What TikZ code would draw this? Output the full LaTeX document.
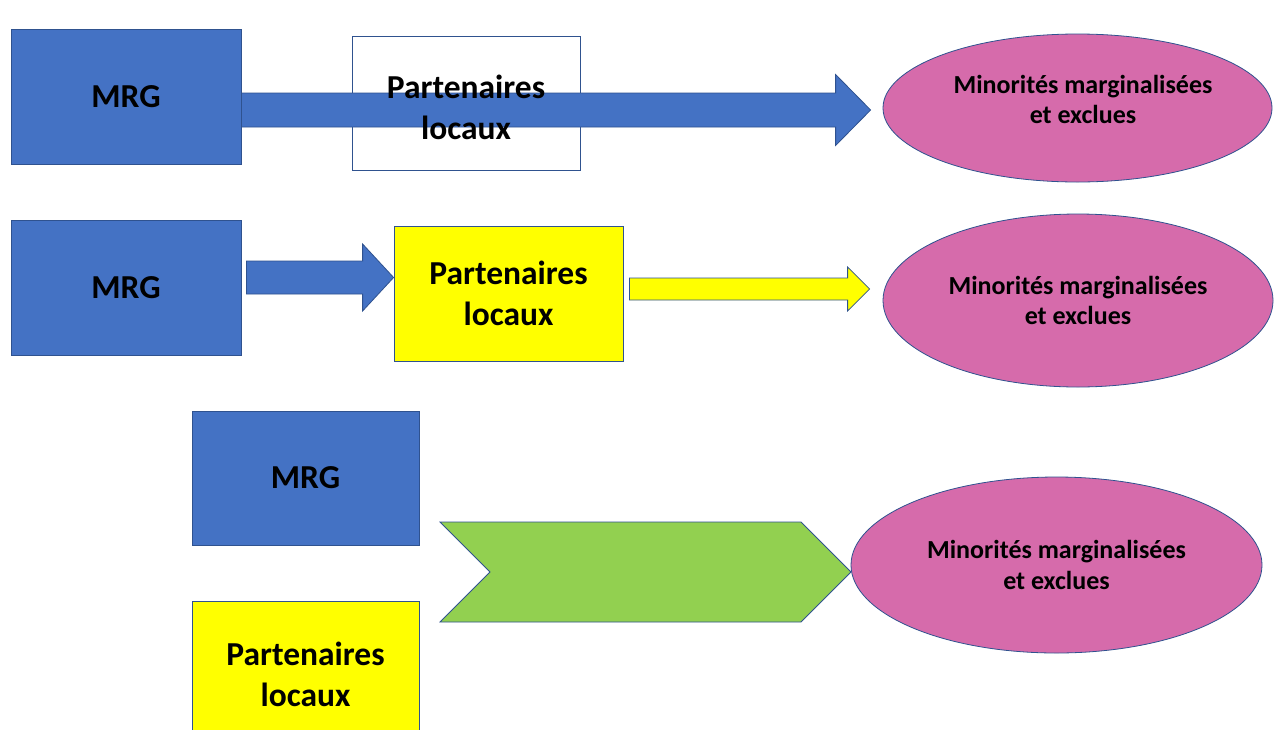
\documentclass[tikz,border=0pt]{standalone}
\usepackage{fontspec}
\setmainfont{Carlito}
\usetikzlibrary{shapes.geometric,calc}
\definecolor{mblue}{HTML}{4472C4}
\definecolor{mline}{HTML}{2F528F}
\definecolor{myel}{HTML}{FFFF00}
\definecolor{mgreen}{HTML}{92D050}
\definecolor{mpink}{HTML}{D66BAB}
\tikzset{
  bigtext/.style={font=\fontsize{33.5}{41}\selectfont\bfseries, align=center, text=black},
  smalltext/.style={font=\fontsize{26}{30.5}\selectfont\bfseries, align=center, text=black},
  box/.style={draw=mline, line width=0.8pt, rectangle, inner sep=0pt, bigtext},
  mrgbox/.style={box, fill=mblue},
  partbox/.style={box, fill=myel},
  openbox/.style={box, fill=white, line width=1pt},
  target/.style={ellipse, draw=mline, line width=0.8pt, fill=mpink, inner sep=0pt, smalltext},
  bluearrow/.style={fill=mblue, draw=mline, line width=0.8pt, line join=miter},
  yelarrow/.style={fill=myel, draw=mline, line width=0.8pt, line join=miter},
  chevron/.style={fill=mgreen, draw=mline, line width=0.8pt, line join=miter}
}
\newcommand\blockarrow[6]{%
  \path[#6] let \p1=(#1), \p2=(#2) in
    (\x1,\y1+#3pt) -- (\x2-#5pt,\y1+#3pt) -- (\x2-#5pt,\y1+#4pt) -- (\x2,\y1)
    -- (\x2-#5pt,\y1-#4pt) -- (\x2-#5pt,\y1-#3pt) -- (\x1,\y1-#3pt) -- cycle;}
\begin{document}
\begin{tikzpicture}[x=1pt,y=-1pt]
\useasboundingbox (0,0) rectangle (1274,729);
\clip (0,0) rectangle (1274,729);
\fill[white] (0,0) rectangle (1274,729);

% Row 1
\node[mrgbox, minimum width=230, minimum height=135] (mrg1) at (126,96.5) {MRG};
\node[openbox, minimum width=228, minimum height=134] (part1) at (466,103) {};
\node[target, minimum width=389, minimum height=148] (e1) at (1077.5,108) {};
\coordinate (a1s) at ($(mrg1.east)+(0,13.5)$);
\coordinate (a1t) at ($(e1.west)+(-12,2)$);
\blockarrow{a1s}{a1t}{17}{35.5}{35}{bluearrow}
\node[bigtext] (part1t) at ($(part1.center)+(0,4)$) {Partenaires\\locaux};
\node[smalltext] (e1t) at ($(e1.center)+(5.5,-8.5)$) {Minorités marginalisées\\et exclues};

% Row 2
\node[mrgbox, minimum width=230, minimum height=135] (mrg2) at (126,287.5) {MRG};
\node[partbox, minimum width=229, minimum height=135] (part2) at (508.5,293.5) {Partenaires\\locaux};
\node[target, minimum width=390, minimum height=173] (e2) at (1078,300.5) {Minorités marginalisées\\et exclues};
\coordinate (a2s) at ($(mrg2.east)+(5,-10)$);
\coordinate (a2t) at (part2.west);
\blockarrow{a2s}{a2t}{16.5}{33.5}{31}{bluearrow}
\coordinate (a3s) at ($(part2.east)+(6,-4.5)$);
\coordinate (a3t) at ($(e2.west)+(-13,0)$);
\blockarrow{a3s}{a3t}{11}{22}{22}{yelarrow}

% Row 3
\node[mrgbox, minimum width=227, minimum height=134] (mrg3) at (305.5,478) {MRG};
\node[partbox, minimum width=227, minimum height=146] (part3) at (305.5,674) {Partenaires\\locaux};
\node[target, minimum width=411, minimum height=176] (e3) at (1056.5,565) {Minorités marginalisées\\et exclues};
\path[chevron] (440,522) -- (801,522) -- (851,572) -- (801,622) -- (440,622) -- (490,572) -- cycle;
\end{tikzpicture}
\end{document}
